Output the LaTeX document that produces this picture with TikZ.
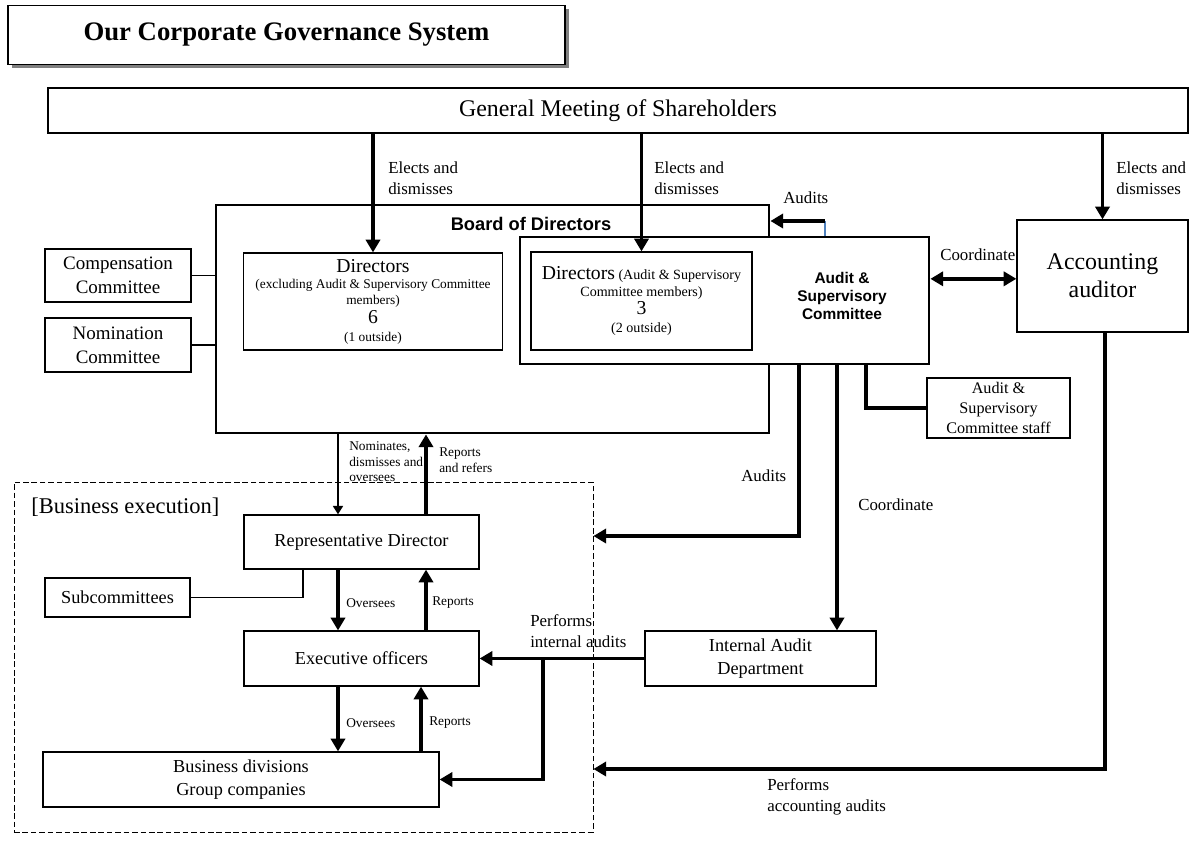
\documentclass[tikz,border=0pt]{standalone}
\usepackage{fontspec}
\setmainfont{Liberation Serif}
\newfontfamily\arialfont{Liberation Sans}
\usetikzlibrary{arrows.meta, positioning, shadows}

\newcommand{\pxu}{0.025cm}
\newcommand{\fsz}[2]{\fontsize{#1}{#2}\selectfont}
\definecolor{tickblue}{RGB}{79,129,189}

\tikzstyle{thickarrow} = [line width=2.5pt, -{Triangle[length=9pt,width=10pt]}]
\tikzstyle{bothways} = [line width=2.5pt, {Triangle[length=9pt,width=10pt]}-{Triangle[length=9pt,width=10pt]}]
\tikzstyle{thinarrow} = [line width=1.5pt, -{Triangle[length=6pt,width=7pt]}]

\begin{document}
\begin{tikzpicture}[x=\pxu, y=-\pxu,
    box/.style={rectangle, draw, line width=0.9pt, inner sep=0pt, align=center, fill=white, font=\fsz{13}{15.5}},
    heavybox/.style={box, line width=2pt},
    boxsize/.style 2 args={minimum width=#1*\pxu, minimum height=#2*\pxu},
    lbl/.style={anchor=west, inner sep=0pt, align=left, font=\fsz{12}{15}},
    smalllbl/.style={lbl, font=\fsz{9.5}{11}},
    link/.style={line width=0.8pt}
  ]
    \useasboundingbox (0,0) rectangle (1192,841);

    % Title
    \node[box, boxsize={557}{59}, drop shadow={shadow xshift=2.5pt, shadow yshift=-2.5pt, fill=gray, opacity=1}, font=\fsz{19}{22}\bfseries] (title) at (286.5,35) {Our Corporate Governance System};

    % Shareholders
    \node[box, boxsize={1140}{45}, font=\fsz{17}{20}] (gms) at (618,110.5) {General Meeting of Shareholders};

    % Board of Directors
    \node[heavybox, boxsize={553}{228}] (board) at (492.5,319) {};
    \node[font=\arialfont\bfseries\fsz{13}{15}, inner sep=0pt] (boardlbl) at (531,224) {Board of Directors};
    \node[box, boxsize={259}{97}, font=\fsz{9.5}{11.5}] (dir1) at (373,301.5) {{\fsz{14}{16}Directors}\\(excluding Audit \& Supervisory Committee\\members)\\[2pt]{\fsz{14}{16}6}\\[1pt](1 outside)};

    % Audit & Supervisory Committee
    \node[heavybox, boxsize={409}{127}] (asc) at (724.5,300.5) {};
    \node[font=\arialfont\bfseries\fsz{11}{13}, align=center, inner sep=0pt] (asclbl) at (842,296) {Audit \&\\Supervisory\\Committee};
    \node[box, boxsize={221}{98}, font=\fsz{10}{12}] (dir2) at (641.5,301) {{\fsz{14}{16}Directors} (Audit \& Supervisory\\Committee members)\\[1pt]{\fsz{14}{16}3}\\[1pt](2 outside)};
    \node[box, boxsize={143}{60}, font=\fsz{11.5}{14}] (staff) at (998.5,408) {Audit \&\\Supervisory\\Committee staff};

    % Accounting auditor
    \node[box, boxsize={171}{112}, font=\fsz{17}{20}] (acct) at (1102.5,276) {Accounting\\auditor};

    % Committees
    \node[box, boxsize={146}{53}, font=\fsz{13.5}{17}] (comp) at (118,275.5) {Compensation\\Committee};
    \node[box, boxsize={146}{54}, font=\fsz{13.5}{17}] (nom) at (118,345) {Nomination\\Committee};

    % Business execution
    \node[draw, line width=0.6pt, dash pattern=on 4pt off 2pt, inner sep=0pt, boxsize={579}{350}] (busexec) at (303.5,657) {};
    \node[lbl, font=\fsz{16}{19}] (busexeclbl) at (31,507) {[Business execution]};
    \node[box, boxsize={235}{54}] (rep) at (361.5,542) {Representative Director};
    \node[box, boxsize={145}{39}] (subc) at (117.5,597.5) {Subcommittees};
    \node[box, boxsize={235}{55}] (exec) at (361.5,658.5) {Executive officers};
    \node[box, boxsize={396}{55}, font=\fsz{13}{16}] (biz) at (241,779.5) {Business divisions\\Group companies};
    \node[box, boxsize={231}{55}, font=\fsz{13}{16}] (iad) at (760.5,658.5) {Internal Audit\\Department};

    % Elects and dismisses
    \draw[thickarrow] (dir1.north |- gms.south) -- (dir1.north);
    \draw[thickarrow] (dir2.north |- gms.south) -- (dir2.north);
    \draw[thickarrow] (acct.north |- gms.south) -- (acct.north);
    \node[lbl] (elect1) at (388,178) {Elects and\\dismisses};
    \node[lbl] (elect2) at (654,178) {Elects and\\dismisses};
    \node[lbl] (elect3) at (1116,178) {Elects and\\dismisses};

    % ASC audits the board
    \coordinate (auditsup) at (825,221);
    \draw[tickblue, line width=0.8pt] (auditsup |- asc.north) -- (auditsup);
    \draw[thickarrow] (auditsup) -- (auditsup -| board.east);
    \node[lbl] (audits1) at (783,198) {Audits};

    % Coordination with accounting auditor
    \draw[bothways] ([yshift=-2pt]acct.west -| asc.east) -- ([yshift=-2pt]acct.west);
    \node[lbl] (coord1) at (940,255) {Coordinate};

    % Committees to board
    \draw[link] (comp.east) -- (comp.east -| board.west);
    \draw[link] (nom.east) -- (nom.east -| board.west);

    % From ASC downwards
    \coordinate (auditsturn) at (799,536);
    \draw[thickarrow] (auditsturn |- asc.south) -- (auditsturn) -- (auditsturn -| busexec.east);
    \node[lbl] (audits2) at (741,476) {Audits};
    \coordinate (coorddrop) at (837,0);
    \draw[thickarrow] (coorddrop |- asc.south) -- (coorddrop |- iad.north);
    \node[lbl] (coord2) at (858,505) {Coordinate};
    \coordinate (staffdrop) at (866,0);
    \draw[line width=2.5pt] (staffdrop |- asc.south) |- (staff.west);

    % Accounting audits
    \coordinate (acctturn) at (1105,769);
    \draw[thickarrow] (acct.south -| acctturn) -- (acctturn) -- (acctturn -| busexec.east);
    \node[lbl] (perfacct) at (767,797) {Performs\\accounting audits};

    % Internal audits
    \draw[thickarrow] (iad.west) -- (exec.east);
    \coordinate (iaturn) at (543,0);
    \draw[thickarrow] (iaturn |- iad.west) |- (biz.east);
    \node[lbl] (perfint) at (530,631) {Performs\\internal audits};

    % Execution chain
    \coordinate (downx) at (338,0);
    \coordinate (upx) at (426,0);
    \coordinate (upxlow) at (421,0);
    \draw[thinarrow] (downx |- board.south) -- (downx |- rep.north);
    \draw[thickarrow] (upx |- rep.north) -- (upx |- board.south);
    \node[smalllbl] (nomlbl) at (349,462) {Nominates,\\dismisses and\\oversees};
    \node[smalllbl] (reflbl) at (439,460) {Reports\\and refers};
    \draw[thickarrow] (downx |- rep.south) -- (downx |- exec.north);
    \draw[thickarrow] (upx |- exec.north) -- (upx |- rep.south);
    \node[smalllbl] (over1) at (346,603) {Oversees};
    \node[smalllbl] (rep1) at (432,603) {Reports};
    \draw[thickarrow] (downx |- exec.south) -- (downx |- biz.north);
    \draw[thickarrow] (upxlow |- biz.north) -- (upxlow |- exec.south);
    \node[smalllbl] (over2) at (346,723) {Oversees};
    \node[smalllbl] (rep2) at (429,723) {Reports};

    % Subcommittees
    \coordinate (subx) at (303,0);
    \draw[link] (subx |- rep.south) |- (subc.east);
  \end{tikzpicture}
\end{document}
